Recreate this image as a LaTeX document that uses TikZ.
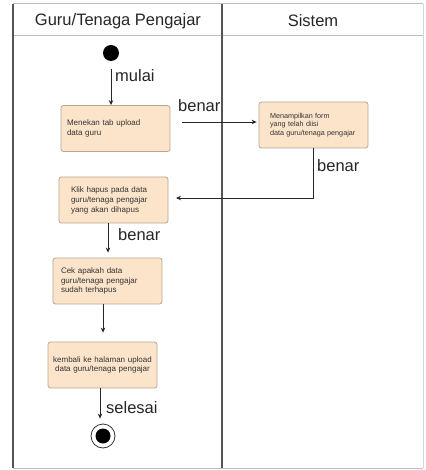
\documentclass[tikz,border=0pt]{standalone}
\usepackage{fontspec}
\setmainfont{Liberation Sans}
\usetikzlibrary{arrows.meta,calc}
\definecolor{actfill}{HTML}{FCE4CB}
\definecolor{actline}{HTML}{B9A690}
\definecolor{laneline}{HTML}{555555}
\definecolor{lightline}{HTML}{BDBDBD}
\definecolor{txt}{HTML}{333333}
\tikzset{
  activity/.style={draw=actline, fill=actfill, rounded corners=2.5pt, line width=0.8pt,
    minimum width=109pt, minimum height=46pt, text=txt, font=\fontsize{8}{10}\selectfont,
    align=left, inner ysep=0pt},
  flow/.style={draw=black!85, line width=0.8pt, -{Stealth[length=5pt,width=4.5pt]}},
  flowlabel/.style={font=\fontsize{16.5}{18}\selectfont, text=black!85, inner sep=0pt},
  lanehead/.style={font=\fontsize{16.5}{18}\selectfont, text=black!85, inner sep=0pt},
}
\begin{document}
\begin{tikzpicture}[x=1pt,y=-1pt]
  \useasboundingbox (0,0) rectangle (425,470);
  \fill[white] (0,0) rectangle (425,470);

  % swimlane frame
  \draw[lightline, line width=1pt] (13,4) -- (423,4);
  \draw[lightline, line width=0.8pt] (13,35) -- (423,35);
  \draw[lightline, line width=1pt] (13,468) -- (423,468);
  \draw[lightline!60, line width=0.8pt] (423,4) -- (423,468);
  \draw[laneline, line width=1.3pt] (13,4) -- (13,468);
  \draw[laneline, line width=1.3pt] (222,4) -- (222,468);
  \node[lanehead] (laneA) at (118,21) {Guru/Tenaga Pengajar};
  \node[lanehead] (laneB) at (313,21) {Sistem};

  % start and end
  \node[circle, fill=black, minimum size=16pt, inner sep=0pt] (start) at (111,53) {};
  \node[circle, draw=black!80, line width=0.8pt, minimum size=24pt, inner sep=0pt] (stop) at (103,436) {};
  \node[circle, fill=black, minimum size=15pt, inner sep=0pt] (stopdot) at (103,436) {};

  % activities
  \node[activity, text width=97pt, inner xsep=6pt] (act1) at (115.5,128.5)
    {Menekan tab upload\\data guru};
  \node[activity, text width=87pt, inner xsep=11pt, font=\fontsize{7.2}{8.2}\selectfont] (act2) at (313.5,125)
    {Menampilkan form\\yang telah diisi\\data guru/tenaga pengajar};
  \node[activity, text width=85pt, inner xsep=12pt] (act3) at (113.5,200)
    {Klik hapus pada data\\guru/tenaga pengajar\\yang akan dihapus};
  \node[activity, text width=93pt, inner xsep=8pt, font=\fontsize{8}{9.2}\selectfont] (act4) at (107.5,281)
    {Cek apakah data\\guru/tenaga pengajar\\sudah terhapus};
  \node[activity, text width=103pt, inner xsep=3pt, align=center, font=\fontsize{8}{8.6}\selectfont] (act5) at (102.5,365)
    {kembali ke halaman upload\\data guru/tenaga pengajar};

  % connector end points
  \coordinate (c1) at (182,122);
  \coordinate (c2) at (176,198);
  \coordinate (c3) at (108,223);
  \coordinate (c4) at (103,304);
  \coordinate (c5) at (100,388);

  % flows
  \draw[flow, shorten <=8pt] (start) -- (start |- act1.north);
  \draw[flow, shorten >=2pt] (c1) -- (c1 -| act2.west);
  \draw[flow] (act2.south) |- (c2);
  \draw[flow, shorten >=5pt] (c3) -- (c3 |- act4.north);
  \draw[flow, shorten >=9pt] (c4) -- (c4 |- act5.north);
  \draw[flow, shorten >=5pt] (c5) -- (c5 |- stop.north);

  % flow labels
  \node[flowlabel, anchor=west] (lmulai) at (115,76) {mulai};
  \node[flowlabel, anchor=west] (lbenar1) at (178,106) {benar};
  \node[flowlabel, anchor=west] (lbenar2) at (317,166) {benar};
  \node[flowlabel, anchor=west] (lbenar3) at (118,235) {benar};
  \node[flowlabel, anchor=west] (lselesai) at (106,408) {selesai};
\end{tikzpicture}
\end{document}
